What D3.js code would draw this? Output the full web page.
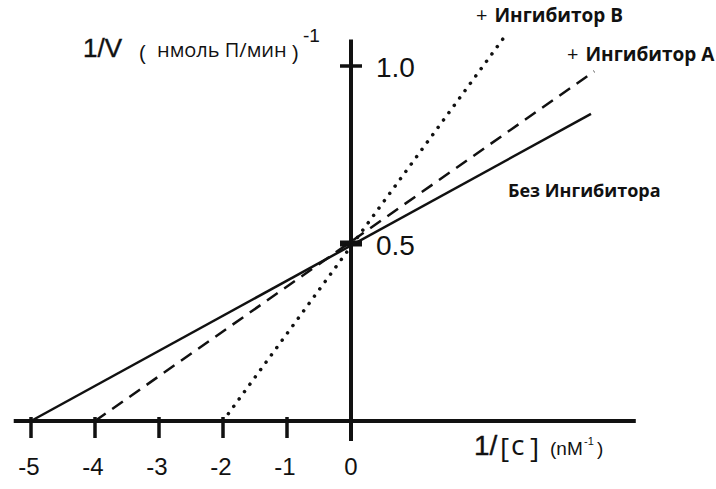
<!DOCTYPE html>
<html>
<head>
<meta charset="utf-8">
<script src="https://cdn.jsdelivr.net/npm/d3@7/dist/d3.min.js"></script>
<style>
  body { margin: 0; background: #fff; }
  svg { display: block; }
  text { fill: #111; }
</style>
</head>
<body>
<svg id="chart" width="716" height="489"></svg>
<script>
// x axis ticks and y axis ticks
var xTicks = [-5, -4, -3, -2, -1, 0];
var yTicks = [0.5, 1.0];

var lineNames = ['none', 'A', 'B'];
var lineStart = [[-5, 0], [-4, 0], [-2, 0]];
var lineEnd = [[3.75, 0.865], [3.8, 0.985], [2.45, 1.095]];
var lineLabels = ['Без Ингибитора', '+ Ингибитор А', '+ Ингибитор В'];

var svg = d3.select('#chart');

var x = d3.scaleLinear().domain([0, 1]).range([351, 415]);
var y = d3.scaleLinear().domain([0, 1]).range([421, 66]);

var ink = '#111';
var sans = 'Liberation Sans, Arial, sans-serif';
var open = 'Open Sans, sans-serif';

// main axes
svg.append('line')
  .attr('x1', x(-5.27)).attr('x2', x(4.45))
  .attr('y1', y(0)).attr('y2', y(0))
  .attr('stroke', ink).attr('stroke-width', 4);

svg.append('line')
  .attr('x1', x(0)).attr('x2', x(0))
  .attr('y1', y(-0.056)).attr('y2', y(1.075))
  .attr('stroke', ink).attr('stroke-width', 4);

// x ticks
var xg = svg.append('g');
xTicks.forEach(function(t) {
  xg.append('line')
    .attr('x1', x(t)).attr('x2', x(t))
    .attr('y1', y(0) - 4).attr('y2', y(0) + 17)
    .attr('stroke', ink).attr('stroke-width', 3.5);
  xg.append('text')
    .attr('x', x(t) - (t < 0 ? 2 : 0))
    .attr('y', 475)
    .attr('text-anchor', 'middle')
    .attr('font-family', sans)
    .attr('font-size', 24)
    .text(t);
});

// y ticks
var yg = svg.append('g');
yTicks.forEach(function(t) {
  yg.append('line')
    .attr('x1', x(0) - 11).attr('x2', x(0) + 11)
    .attr('y1', y(t)).attr('y2', y(t))
    .attr('stroke', ink).attr('stroke-width', t === 0.5 ? 6 : 3.5);
  yg.append('text')
    .attr('x', x(0) + 25)
    .attr('y', y(t) + 11)
    .attr('font-family', sans)
    .attr('font-size', 28)
    .text(t.toFixed(1));
});

// data lines
var dashes = [null, '13,8', '0.1,9'];
var widths = [2.5, 2.5, 3.5];
var line = d3.line()
  .x(function(d) { return x(d[0]); })
  .y(function(d) { return y(d[1]); });

lineNames.forEach(function(name, i) {
  svg.append('path')
    .attr('class', 'series-' + name)
    .attr('d', line([lineStart[i], lineEnd[i]]))
    .attr('fill', 'none')
    .attr('stroke', ink)
    .attr('stroke-width', widths[i])
    .attr('stroke-dasharray', dashes[i])
    .attr('stroke-linecap', i === 2 ? 'round' : 'butt');
});

// series labels
var labelPos = [[508, 197], [567, 61], [476, 22]];
var labelSize = [18, 19, 19];
lineLabels.forEach(function(txt, i) {
  var t = svg.append('text')
    .attr('x', labelPos[i][0])
    .attr('y', labelPos[i][1])
    .attr('font-family', open)
    .attr('font-size', labelSize[i]);
  if (txt[0] === '+') {
    t.append('tspan').attr('font-size', 20).text('+');
    t.append('tspan').attr('font-weight', 'bold').attr('dx', 7)
      .text(txt.slice(2));
  } else {
    t.attr('font-weight', 'bold').text(txt);
  }
});

// free text helper
function put(txt, px, py, size, family) {
  return svg.append('text')
    .attr('x', px).attr('y', py)
    .attr('font-family', family || sans)
    .attr('font-size', size)
    .text(txt);
}

// y title
put('1/V', 83, 57, 26).attr('stroke', ink).attr('stroke-width', 0.4);
put('(', 139, 60, 20);
put('нмоль П/мин', 157, 57, 20, open);
put(')', 292, 60, 20);
put('-1', 303, 42, 19);

// x title
put('1/', 474, 455, 28).attr('stroke', ink).attr('stroke-width', 0.4);
put('[', 500, 458, 28, open);
put('c', 511, 455, 28, open);
put(']', 530, 458, 28, open);
put('(nM', 550, 455, 19);
put('-1', 584, 445, 11);
put(')', 597, 455, 19);
</script>
</body>
</html>
